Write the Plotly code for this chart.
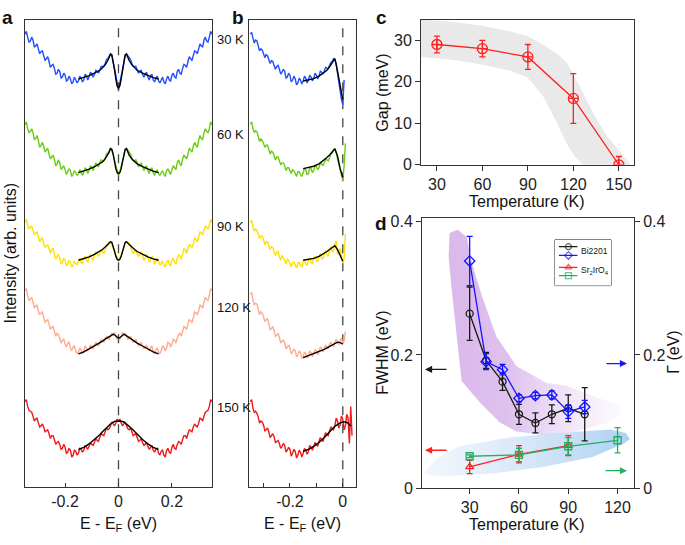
import numpy as np
import plotly.graph_objects as go

# ---------------- Panels a / b : EDCs (arb. units) ----------------
temps_labels = ["30 K", "60 K", "90 K", "120 K", "150 K"]
edc_colors = ["#1f4dff", "#6ccc14", "#ffe100", "#ffab8c", "#f01818"]
offsets = [415, 320, 227, 135, 33]          # vertical stacking offsets

E_half = np.round(np.arange(71) * 0.005 - 0.35, 4)   # -0.350 ... 0.000

# panel a : symmetrised EDCs, E <= 0 half (the symmetrised spectra are mirror images about E_F)
sym_30 = [50,53,47,42,43,47,44,37,38,40, 35,30,32,33,28,23,25,27,22,16, 18,19,15,9,10,14,12,5,6,10,
          8,2,3,7,4,-1,1,6,3,0, 2,7,5,1,3,9,7,3,6,11, 9,6,9,13,12,10,13,17,17,17,
          20,24,25,28,30,28,22,15,8,0, -7]
sym_60 = [52,55,48,44,45,48,44,37,38,41, 36,29,31,34,30,24,26,28,22,17, 19,21,17,10,12,16,13,6,8,10,
          6,1,4,7,5,-1,1,5,3,0, 2,6,4,0,3,8,6,2,5,10, 8,5,9,13,11,9,13,16,15,15,
          18,22,23,26,28,26,22,16,10,4, 0]
sym_90 = [45,48,42,38,40,41,37,32,34,35, 30,25,28,29,23,19,21,22,18,13, 17,18,12,7,10,12,8,2,4,8,
          6,0,2,6,4,-1,1,5,3,1, 5,8,4,2,8,10,6,4,9,12, 8,6,11,15,12,10,13,17,15,13,
          16,20,21,25,24,23,18,15,12,8, 6]
sym_120 = [67,69,62,57,58,60,55,49,51,52, 46,42,44,45,39,34,36,37,33,27, 29,30,25,20,23,22,18,13,16,17,
           12,9,13,14,8,5,9,10,5,2, 4,8,6,2,4,10,8,5,7,11, 9,7,10,14,12,10,13,17,15,14,
           17,20,18,17,20,23,22,24,20,17, 18]
sym_150 = [55,57,50,46,45,44,40,35,37,38, 33,29,30,32,29,24,25,26,22,17, 20,20,16,11,13,14,11,6,7,11,
           8,2,3,7,5,-2,0,5,4,0, 2,7,6,3,5,10,8,6,9,13, 11,10,13,17,15,14,18,22,21,20,
           24,28,26,27,30,34,32,30,33,37, 35]
sym_all = [sym_30, sym_60, sym_90, sym_120, sym_150]

fitA_E = [-0.15,-0.13,-0.11,-0.09,-0.07,-0.06,-0.05,-0.04,-0.035,-0.03,-0.025,-0.02,-0.015,-0.01,-0.005,0.0]
fitA_30 = [4,5.5,7.5,10,13,15.5,18.5,23,26,29.5,29,23,14,4,-3,-5]
fitA_60 = [3,4.5,6.5,9,12,14,17,21,24,27.5,27,22,14,7,3,2]
fitA_90 = [6,7.5,9.5,12,15,17,19.5,22,23.5,25,24.5,21,15.5,10,7,6]
fitA_120 = [2,4,7,10,13,15,17,18.5,19.5,20.5,21.5,22,21.5,20,18.5,18]
fitA_150 = [6,8,11.5,16,21,24,27,29.5,31,32,33,34,34.5,34.8,35,35]
fitA_all = [fitA_30, fitA_60, fitA_90, fitA_120, fitA_150]

# panel b : raw EDCs (-0.350 ... 0.000) plus points above E_F
raw_30 = [50,52,46,41,44,43,38,33,35,34, 30,26,29,28,24,20,23,22,18,14, 17,18,14,9,11,14,12,5,6,10,
          8,1,3,7,4,-2,0,5,3,-1, 2,7,5,0,3,8,6,2,5,10, 8,4,7,12,11,9,12,16,15,15,
          18,21,22,25,24,20,10,0,-10,-17, -22]
raw_60 = [53,55,48,44,46,45,40,35,38,36, 33,29,31,31,27,22,25,24,20,16, 19,19,15,11,13,13,10,5,8,8,
          5,2,6,5,2,-1,4,4,1,-1, 3,7,6,1,2,8,7,3,5,10, 9,6,8,13,12,10,13,17,16,15,
          18,22,23,26,27,24,17,11,5,0, -5]
raw_90 = [45,47,40,36,38,37,33,28,31,31, 27,22,25,25,21,17,20,19,15,11, 14,15,10,6,11,9,6,2,7,6,
          3,-1,4,4,1,-2,3,4,1,-1, 5,6,2,1,7,8,4,2,8,10, 6,5,10,13,9,7,13,16,12,10,
          17,20,15,16,22,26,12,14,18,12, 3]
raw_120 = [63,65,57,52,54,53,48,42,45,44, 40,35,37,38,33,27,28,30,26,20, 21,23,19,13,15,16,13,7,9,11,
           8,2,4,7,5,-1,1,5,3,-3, -1,4,2,-2,0,5,3,-1,2,6, 5,1,4,9,7,4,8,11,9,7,
           12,14,11,10,14,17,13,12,16,18, 12]
raw_150 = [55,57,48,44,45,43,39,33,35,34, 31,25,26,28,24,18,20,22,19,13, 14,15,12,7,9,12,10,3,5,8,
           6,-1,2,6,4,-3,0,5,3,-2, 2,7,5,1,4,10,8,5,9,13, 11,9,14,18,16,14,19,23,21,20,
           25,29,27,26,30,38,35,28,31,40, 37]
raw_all = [raw_30, raw_60, raw_90, raw_120, raw_150]
tail_E = [[0.005], [0.005, 0.01], [0.005, 0.01], [0.005, 0.01],
          [0.005, 0.01, 0.015, 0.02, 0.025, 0.03, 0.035]]
tail_I = [[3], [10, 33], [8, 33], [15, 25], [26, 30, 42, 38, 12, 50, 20]]

fitB_E = [-0.15,-0.13,-0.11,-0.09,-0.07,-0.06,-0.05,-0.04,-0.03,-0.02,-0.01,0.0]
fitB_30 = [2,3,4.5,7,10.5,13,16.5,21,25,12,-4,-17]
fitB_60 = [7,8,9.5,12,16,18.5,21,24,27.5,20,7,-2]
fitB_90 = [6,7,8,10,13,15,17,19.5,21,17,10,5]
fitB_120 = [-2,0,2,4,6.5,8,9.5,11,12.5,14,13.5,12]
fitB_150_E = [-0.15,-0.13,-0.11,-0.09,-0.07,-0.05,-0.03,-0.01,0.0,0.01,0.02,0.03]
fitB_150 = [4,6,9,13,18,24,29.5,33,34,34,33,30]
fitB_E_all = [fitB_E, fitB_E, fitB_E, fitB_E, fitB_150_E]
fitB_all = [fitB_30, fitB_60, fitB_90, fitB_120, fitB_150]

for arr in sym_all + raw_all:
    assert len(arr) == len(E_half)

# ---------------- Panel c : gap vs temperature ----------------
T_gap = [30, 60, 90, 120, 150]
gap = [29, 28, 26, 16, 0]
gap_err = [2, 2, 3, 6, 2]
band_up_T = [19.5, 40, 60, 80, 90, 100, 110, 116, 124, 133, 142, 150, 158]
band_up = [35, 34.5, 33.5, 32, 31, 29, 26.5, 24.5, 19, 12.5, 7, 3.5, 0]
band_lo_T = [19.5, 40, 60, 80, 90, 100, 108, 115, 120, 126]
band_lo = [26, 25.3, 24.2, 22.5, 21, 16.5, 11, 5.5, 2.5, 0]

# ---------------- Panel d : FWHM / Gamma ----------------
T_bi = [30, 40, 50, 60, 70, 80, 90, 100]
fwhm_bi = [0.262, 0.192, 0.160, 0.111, 0.098, 0.111, 0.120, 0.111]
fwhm_bi_err = [0.040, 0.012, 0.013, 0.015, 0.015, 0.014, 0.020, 0.040]
gamma_bi = [0.341, 0.190, 0.178, 0.135, 0.139, 0.140, 0.115, 0.122]
gamma_bi_err = [0.037, 0.012, 0.008, 0.005, 0.005, 0.006, 0.010, 0.010]
T_sr_f = [30, 60, 90]
fwhm_sr = [0.032, 0.051, 0.064]
fwhm_sr_err = [0.010, 0.013, 0.015]
T_sr_g = [30, 60, 90, 120]
gamma_sr = [0.048, 0.050, 0.063, 0.072]
gamma_sr_err = [0.002, 0.010, 0.013, 0.019]
purple_T = [17.8, 17.2, 19.0, 22.1, 25.1, 36.1, 48.2, 58.6, 74.4, 95.1, 115.2, 123.1,
            121.2, 104.8, 89.0, 76.8, 58.6, 46.4, 37.9, 31.8, 28.2, 22.7]
purple_v = [0.383, 0.348, 0.300, 0.227, 0.161, 0.129, 0.099, 0.085, 0.080, 0.085, 0.099, 0.114,
            0.124, 0.139, 0.154, 0.158, 0.183, 0.227, 0.285, 0.334, 0.377, 0.388]
blue_T = [2.0, 10, 23.9, 54.3, 84.7, 115.2, 125, 127.5, 124, 104.8, 74.4, 44.0, 13.6, 4]
blue_v = [0.024, 0.045, 0.063, 0.076, 0.083, 0.088, 0.083, 0.074, 0.067, 0.047, 0.032, 0.022, 0.018, 0.020]

FONT = "Liberation Sans, Arial, Helvetica, sans-serif"
AX = "#333333"

fig = go.Figure()

# panel a
for i in range(5):
    v = np.array(sym_all[i], dtype=float)
    x = np.concatenate([E_half, -E_half[-2::-1]])
    y = np.concatenate([v, v[-2::-1]]) + offsets[i]
    fig.add_trace(go.Scatter(x=x, y=y, mode="lines", line=dict(color=edc_colors[i], width=1.4),
                             xaxis="x", yaxis="y"))
    fe = np.array(fitA_E)
    fv = np.array(fitA_all[i], dtype=float)
    fx = np.concatenate([fe, -fe[-2::-1]])
    fy = np.concatenate([fv, fv[-2::-1]]) + offsets[i]
    fig.add_trace(go.Scatter(x=fx, y=fy, mode="lines", line=dict(color="black", width=1.4),
                             xaxis="x", yaxis="y"))

# panel b
for i in range(5):
    x = list(E_half) + tail_E[i]
    y = np.array(raw_all[i] + tail_I[i], dtype=float) + offsets[i]
    fig.add_trace(go.Scatter(x=x, y=y, mode="lines", line=dict(color=edc_colors[i], width=1.4),
                             xaxis="x2", yaxis="y2"))
    fig.add_trace(go.Scatter(x=fitB_E_all[i], y=np.array(fitB_all[i], dtype=float) + offsets[i],
                             mode="lines", line=dict(color="black", width=1.4),
                             xaxis="x2", yaxis="y2"))

# panel c
fig.add_trace(go.Scatter(x=band_up_T + band_lo_T[::-1], y=band_up + band_lo[::-1], fill="toself",
                         fillcolor="rgb(233,233,233)", line=dict(width=0), mode="lines",
                         xaxis="x3", yaxis="y3"))
fig.add_trace(go.Scatter(x=T_gap, y=gap, mode="lines+markers",
                         line=dict(color="#ff2020", width=1.3),
                         marker=dict(symbol="circle-cross-open", size=10, color="#ff2020",
                                     line=dict(width=1.3)),
                         error_y=dict(type="data", array=gap_err, color="#ff2020", thickness=1.3, width=3),
                         xaxis="x3", yaxis="y3"))

# panel d bands
fig.add_trace(go.Scatter(x=purple_T, y=purple_v, fill="toself", mode="lines", line=dict(width=0),
                         fillgradient=dict(type="horizontal",
                                           colorscale=[[0, "rgba(205,160,228,0.75)"],
                                                       [0.35, "rgba(205,160,228,0.65)"],
                                                       [1, "rgba(225,200,240,0.08)"]]),
                         xaxis="x4", yaxis="y4"))
fig.add_trace(go.Scatter(x=blue_T, y=blue_v, fill="toself", mode="lines", line=dict(width=0),
                         fillgradient=dict(type="horizontal",
                                           colorscale=[[0, "rgba(200,222,245,0.25)"],
                                                       [1, "rgba(160,200,240,0.85)"]]),
                         xaxis="x4", yaxis="y4"))

C_BLK, C_BLU, C_RED, C_GRN = "#1a1a1a", "#1414ff", "#ff2020", "#20b060"
sty = {
    "bk": dict(color=C_BLK, symbol="circle-open"),
    "bl": dict(color=C_BLU, symbol="diamond-open"),
    "rd": dict(color=C_RED, symbol="triangle-up-open"),
    "gn": dict(color=C_GRN, symbol="square-open"),
}
fig.add_trace(go.Scatter(x=T_sr_g, y=gamma_sr, mode="lines+markers", line=dict(color=C_GRN, width=1.3),
                         marker=dict(symbol=sty["gn"]["symbol"], size=7, color=C_GRN, line=dict(width=1.3)),
                         error_y=dict(type="data", array=gamma_sr_err, color=C_GRN, thickness=1.3, width=3),
                         xaxis="x4", yaxis="y5"))
fig.add_trace(go.Scatter(x=T_sr_f, y=fwhm_sr, mode="lines+markers", line=dict(color=C_RED, width=1.3),
                         marker=dict(symbol=sty["rd"]["symbol"], size=7, color=C_RED, line=dict(width=1.3)),
                         error_y=dict(type="data", array=fwhm_sr_err, color=C_RED, thickness=1.3, width=3),
                         xaxis="x4", yaxis="y4"))
fig.add_trace(go.Scatter(x=T_bi, y=gamma_bi, mode="lines+markers", line=dict(color=C_BLU, width=1.3),
                         marker=dict(symbol=sty["bl"]["symbol"], size=8, color=C_BLU, line=dict(width=1.3)),
                         error_y=dict(type="data", array=gamma_bi_err, color=C_BLU, thickness=1.3, width=3),
                         xaxis="x4", yaxis="y5"))
fig.add_trace(go.Scatter(x=T_bi, y=fwhm_bi, mode="lines+markers", line=dict(color=C_BLK, width=1.3),
                         marker=dict(symbol=sty["bk"]["symbol"], size=7, color=C_BLK, line=dict(width=1.3)),
                         error_y=dict(type="data", array=fwhm_bi_err, color=C_BLK, thickness=1.3, width=3),
                         xaxis="x4", yaxis="y4"))

# legend glyphs on a small helper axis
leg_rows = [("bk", 0.85), ("bl", 0.66), ("rd", 0.40), ("gn", 0.22)]
for key, yy in leg_rows:
    s = sty[key]
    fig.add_trace(go.Scatter(x=[0.07, 0.24, 0.40], y=[yy] * 3, mode="lines+markers",
                             line=dict(color=s["color"], width=1.2),
                             marker=dict(symbol=s["symbol"], size=[0, 6, 0], color=s["color"],
                                         line=dict(width=1.2)),
                             xaxis="x6", yaxis="y6"))


def px(x):
    return x / 685.0


def py(y):
    return (545.0 - y) / 545.0


common = dict(showgrid=False, zeroline=False, showline=True, linecolor=AX, linewidth=1,
              tickcolor=AX, tickfont=dict(size=16, family=FONT, color="#222"))

fig.update_layout(
    width=685, height=545, margin=dict(l=0, r=0, t=0, b=0),
    paper_bgcolor="white", plot_bgcolor="white", showlegend=False,
    font=dict(family=FONT, size=16, color="#222"),
    xaxis=dict(domain=[px(25), px(212)], range=[-0.35, 0.35], tickvals=[-0.2, 0, 0.2],
               ticktext=["-0.2", "0", "0.2"], ticks="inside", ticklen=4, mirror=True, anchor="y", **common),
    yaxis=dict(domain=[py(495), py(15)], range=[0, 480], showticklabels=False, ticks="",
               mirror=True, anchor="x", **common),
    xaxis2=dict(domain=[px(249), px(356)], range=[-0.355, 0.05], tickvals=[-0.3, -0.2, -0.1, 0],
                ticktext=["", "-0.2", "", "0"], ticks="inside", ticklen=4, mirror=True, anchor="y2", **common),
    yaxis2=dict(domain=[py(495), py(15)], range=[0, 480], showticklabels=False, ticks="",
                mirror=True, anchor="x2", **common),
    xaxis3=dict(domain=[px(421), px(634)], range=[19.5, 160], tickvals=[30, 60, 90, 120, 150],
                ticks="outside", ticklen=5, mirror=True, anchor="y3", **common),
    yaxis3=dict(domain=[py(164), py(15)], range=[0, 35], tickvals=[0, 10, 20, 30],
                ticks="outside", ticklen=5, mirror=True, anchor="x3", **common),
    xaxis4=dict(domain=[px(422), px(634)], range=[1, 130], tickvals=[30, 60, 90, 120],
                ticks="outside", ticklen=5, mirror=True, anchor="y4", **common),
    yaxis4=dict(domain=[py(496), py(219)], range=[0, 0.405], tickvals=[0, 0.2, 0.4],
                ticktext=["0", "0.2", "0.4"], ticks="outside", ticklen=5, anchor="x4", **common),
    yaxis5=dict(overlaying="y4", side="right", range=[0, 0.405], tickvals=[0, 0.2, 0.4],
                ticktext=["0", "0.2", "0.4"], ticks="outside", ticklen=5, anchor="x4", **common),
    xaxis6=dict(domain=[px(555), px(611)], range=[0, 1], visible=False, anchor="y6"),
    yaxis6=dict(domain=[py(288), py(241)], range=[0, 1], visible=False, anchor="x6"),
)

shapes = [
    dict(type="line", xref="x", yref="y", x0=0, x1=0, y0=0, y1=475,
         line=dict(color="#444", width=1.3, dash="dash"), layer="below"),
    dict(type="line", xref="x2", yref="y2", x0=0, x1=0, y0=0, y1=475,
         line=dict(color="#444", width=1.3, dash="dash"), layer="below"),
    dict(type="rect", xref="paper", yref="paper", x0=px(555), x1=px(611), y0=py(288), y1=py(241),
         line=dict(color="#222", width=1), fillcolor="white", layer="below"),
]
fig.update_layout(shapes=shapes)

ann = []


def text(x, y, t, size=16, xanchor="center", yanchor="middle", angle=0, bold=False):
    ann.append(dict(x=px(x), y=py(y), xref="paper", yref="paper", text=("<b>%s</b>" % t) if bold else t,
                    showarrow=False, xanchor=xanchor, yanchor=yanchor, textangle=angle,
                    font=dict(size=size, family=FONT, color="#111")))


# panel letters
text(0, 0, "a", 19, "left", "top", bold=True)
text(230, 0, "b", 19, "left", "top", bold=True)
text(374, 0, "c", 19, "left", "top", bold=True)
text(373, 211, "d", 19, "left", "top", bold=True)
# temperature labels
lab_y = [35, 133, 227, 310, 413]
for t, yy in zip(temps_labels, lab_y):
    text(215, yy, t, 13, "left")
# axis titles
text(10, 255, "Intensity (arb. units)", 16, angle=-90)
text(118, 533, "E - E<sub>F</sub> (eV)", 16)
text(302, 533, "E - E<sub>F</sub> (eV)", 16)
text(383, 90, "Gap (meV)", 16, angle=-90)
text(527, 202, "Temperature (K)", 16)
text(383, 357, "FWHM (eV)", 16, angle=-90)
text(674, 357, "Γ (eV)", 16, angle=-90)
text(527, 533, "Temperature (K)", 16)
# legend labels
text(579, 252, "Bi2201", 8.5, "left")
text(579, 273, "Sr<sub>2</sub>IrO<sub>4</sub>", 8.5, "left")

# arrows
for (hx, hy, dx, col) in [(425, 374, 23, C_BLK), (627, 368, -22, C_BLU),
                          (425, 457, 23, C_RED), (627, 478, -23, C_GRN)]:
    ann.append(dict(x=px(hx), y=py(hy), xref="paper", yref="paper", text="", showarrow=True,
                    ax=dx, ay=0, arrowhead=2, arrowsize=1.1, arrowwidth=1.3, arrowcolor=col))

fig.update_layout(annotations=ann)
fig.write_html("out.html", config={"displayModeBar": False},
               post_script="document.body.style.margin='0';document.body.style.overflow='hidden';")
